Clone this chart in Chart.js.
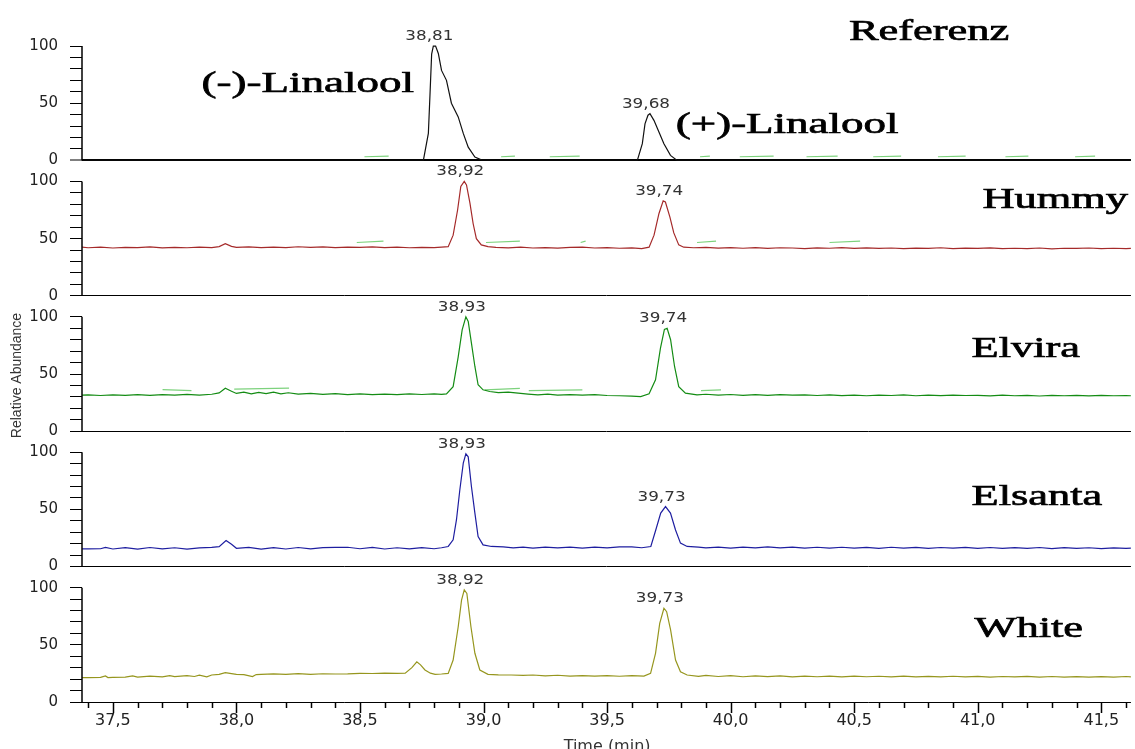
<!DOCTYPE html>
<html>
<head>
<meta charset="utf-8">
<title>Linalool Enantiomere</title>
<script src="https://cdn.jsdelivr.net/npm/chart.js@4.4.1/dist/chart.umd.min.js"></script>
<style>
  html, body { margin: 0; padding: 0; background: #fff; overflow: hidden; }
  canvas { display: block; }
</style>
</head>
<body>
<canvas id="chromatogram" width="1135" height="749"></canvas>
<script>
// time axis (min) and tick labels
const timeMin = 37.375;
const timeMax = 41.62;
const xMajorTicks = [37.5, 38.0, 38.5, 39.0, 39.5, 40.0, 40.5, 41.0, 41.5];
const xTickLabels = ['37,5', '38,0', '38,5', '39,0', '39,5', '40,0', '40,5', '41,0', '41,5'];
const yTickValues = [0, 10, 20, 30, 40, 50, 60, 70, 80, 90, 100];
const yTickLabels = [0, 50, 100];

const sampleNames = ['Referenz', 'Hummy', 'Elvira', 'Elsanta', 'White'];

// Referenz
const referenzTime = [37.375, 38.70, 38.7565, 38.7767, 38.7835, 38.79, 38.7968, 38.806, 38.817, 38.830, 38.850, 38.870,
  38.8975, 38.918, 38.938, 38.965, 38.991, 39.05, 39.60, 39.6224, 39.6426, 39.6534, 39.6655, 39.6735, 39.6896, 39.7098,
  39.73, 39.7565, 39.7835, 41.62];
const referenzAbundance = [0, 0, 0, 23.6, 58.6, 93, 100, 100, 93.5, 78.7, 70, 50,
  38, 23.6, 11.6, 3, 0.5, 0, 0, 0, 14.6, 32, 39.5, 40.8, 35, 24.8,
  14.6, 4.4, 0, 0];
const referenzPeaks = ['38,81', '39,68'];
const referenzGhostTime = [38.518, 38.616, 38.62, 39.071, 39.127, 39.13, 39.268, 39.389, 39.39, 39.876, 39.916, 39.92,
  40.037, 40.174, 40.18, 40.307, 40.433, 40.44, 40.577, 40.690, 40.70, 40.839, 40.951, 40.96, 41.112, 41.205, 41.21,
  41.394, 41.475];
const referenzGhost = [3.2, 3.8, null, 3.2, 3.8, null, 3.2, 3.8, null, 3.2, 3.8, null,
  3.2, 3.8, null, 3.2, 3.8, null, 3.2, 3.8, null, 3.2, 3.8, null, 3.2, 3.8, null,
  3.2, 3.8];

// Hummy
const hummyTime = [37.375, 37.40, 37.45, 37.50, 37.55, 37.60, 37.65, 37.70, 37.75, 37.80, 37.85, 37.90, 37.93, 37.955,
  37.98, 38.00, 38.05, 38.10, 38.15, 38.20, 38.25, 38.30, 38.35, 38.40, 38.45, 38.50, 38.55, 38.60, 38.65, 38.70, 38.75,
  38.80, 38.83, 38.857, 38.877, 38.895, 38.908, 38.922, 38.931, 38.945, 38.958, 38.971, 38.991, 39.018, 39.05, 39.10,
  39.15, 39.20, 39.25, 39.30, 39.35, 39.40, 39.45, 39.50, 39.55, 39.60, 39.64, 39.67, 39.69, 39.71, 39.727, 39.736,
  39.754, 39.770, 39.790, 39.810, 39.85, 39.90, 39.95, 40.00, 40.05, 40.10, 40.15, 40.20, 40.25, 40.30, 40.35, 40.40,
  40.45, 40.50, 40.55, 40.60, 40.65, 40.70, 40.75, 40.80, 40.85, 40.90, 40.95, 41.00, 41.05, 41.10, 41.15, 41.20, 41.25,
  41.30, 41.35, 41.40, 41.45, 41.50, 41.55, 41.60, 41.62];
const hummyAbundance = [42.5, 42.0, 42.6, 41.8, 42.4, 42.1, 42.7, 41.9, 42.3, 42.0, 42.6, 42.2, 43.0, 45.5,
  43.2, 42.3, 42.8, 42.1, 42.6, 42.2, 42.9, 42.3, 42.7, 42.1, 42.5, 42.3, 42.8, 42.2, 42.6, 42.0, 42.4,
  42.1, 42.6, 43, 53, 75, 95.6, 100, 97, 81, 63, 50, 44.5, 43, 42.4, 41.9,
  42.5, 41.8, 42.2, 41.7, 42.3, 42.6, 41.8, 42.1, 41.6, 41.9, 41.2, 42.5, 53, 72, 83, 82,
  69, 55, 44.5, 42.5, 42.0, 42.4, 41.7, 42.1, 41.6, 42.2, 41.5, 42.0, 41.8, 41.3, 41.9, 41.6,
  42.1, 41.5, 41.9, 41.4, 41.8, 41.2, 41.7, 41.5, 42.0, 41.3, 41.7, 41.4, 41.9, 41.2, 41.6, 41.3, 41.8,
  41.1, 41.6, 41.4, 41.8, 41.2, 41.6, 41.3, 41.5];
const hummyPeaks = ['38,92', '39,74'];
const hummyGhostTime = [38.487, 38.595, 38.60, 39.010, 39.147, 39.15, 39.393, 39.413, 39.42, 39.864, 39.941, 39.95,
  40.400, 40.524];
const hummyGhost = [46.6, 47.8, null, 46.6, 47.8, null, 46.6, 47.8, null, 46.6, 47.8, null,
  46.6, 47.8];

// Elvira
const elviraTime = [37.375, 37.40, 37.45, 37.50, 37.55, 37.60, 37.65, 37.70, 37.75, 37.80, 37.85, 37.90, 37.93, 37.955,
  37.98, 38.00, 38.03, 38.06, 38.09, 38.12, 38.15, 38.18, 38.21, 38.25, 38.30, 38.35, 38.40, 38.45, 38.50, 38.55, 38.60,
  38.65, 38.70, 38.75, 38.80, 38.83, 38.850, 38.877, 38.8975, 38.9135, 38.9285, 38.938, 38.951, 38.965, 38.978, 38.998,
  39.025, 39.06, 39.10, 39.14, 39.18, 39.22, 39.26, 39.30, 39.35, 39.40, 39.45, 39.50, 39.55, 39.60, 39.636, 39.67,
  39.696, 39.716, 39.732, 39.743, 39.757, 39.773, 39.790, 39.817, 39.864, 39.90, 39.95, 40.00, 40.05, 40.10, 40.15,
  40.20, 40.25, 40.30, 40.35, 40.40, 40.45, 40.50, 40.55, 40.60, 40.65, 40.70, 40.75, 40.80, 40.85, 40.90, 40.95, 41.00,
  41.05, 41.10, 41.15, 41.20, 41.25, 41.30, 41.35, 41.40, 41.45, 41.50, 41.55, 41.60, 41.62];
const elviraAbundance = [31.5, 31.8, 31.2, 31.7, 31.4, 31.9, 31.3, 32.0, 31.5, 32.2, 31.6, 32.3, 33.5, 37.5,
  35.0, 33.0, 34.2, 32.6, 34.0, 32.8, 34.1, 32.7, 33.6, 32.4, 33.1, 32.2, 32.8, 32.0, 32.6, 31.9, 32.5,
  32.0, 32.7, 32.1, 32.6, 32.2, 32.7, 39, 65, 88.6, 100, 96, 77, 56.6, 40.6, 36.2,
  34.7, 33.8, 34.2, 33.3, 32.5, 31.8, 32.4, 31.6, 32.0, 31.5, 31.9, 31.2, 31.0, 30.6, 30.3, 32.7,
  45, 72.6, 89, 90, 80, 56.6, 39, 33.3, 31.8, 32.3, 31.6, 32.1, 31.4, 31.9, 31.3,
  32.0, 31.5, 31.8, 31.2, 31.7, 31.1, 31.6, 31.0, 31.5, 31.2, 31.7, 31.0, 31.5, 31.1, 31.6, 31.2, 31.4,
  30.9, 31.5, 31.0, 31.4, 30.8, 31.3, 31.0, 31.4, 30.9, 31.3, 31.0, 31.2, 31.0];
const elviraPeaks = ['38,93', '39,74'];
const elviraGhostTime = [37.701, 37.818, 37.82, 37.991, 38.213, 38.22, 39.006, 39.147, 39.15, 39.183, 39.400, 39.41,
  39.880, 39.961];
const elviraGhost = [36.3, 35.5, null, 36.8, 37.7, null, 36.2, 37.5, null, 35.4, 36.2, null,
  35.4, 36.2];

// Elsanta
const elsantaTime = [37.375, 37.40, 37.45, 37.47, 37.50, 37.55, 37.60, 37.65, 37.70, 37.75, 37.80, 37.85, 37.90, 37.93,
  37.958, 37.98, 38.00, 38.05, 38.10, 38.15, 38.20, 38.25, 38.30, 38.35, 38.40, 38.45, 38.50, 38.55, 38.60, 38.65, 38.70,
  38.75, 38.80, 38.83, 38.857, 38.877, 38.8905, 38.904, 38.918, 38.9285, 38.938, 38.951, 38.965, 38.978, 38.998, 39.032,
  39.08, 39.12, 39.16, 39.20, 39.25, 39.30, 39.35, 39.40, 39.45, 39.50, 39.55, 39.60, 39.64, 39.677, 39.697, 39.717,
  39.7365, 39.7565, 39.777, 39.797, 39.824, 39.87, 39.90, 39.95, 40.00, 40.05, 40.10, 40.15, 40.20, 40.25, 40.30, 40.35,
  40.40, 40.45, 40.50, 40.55, 40.60, 40.65, 40.70, 40.75, 40.80, 40.85, 40.90, 40.95, 41.00, 41.05, 41.10, 41.15, 41.20,
  41.25, 41.30, 41.35, 41.40, 41.45, 41.50, 41.55, 41.60, 41.62];
const elsantaAbundance = [15.5, 15.5, 15.6, 16.8, 15.4, 16.6, 15.3, 16.7, 15.5, 16.5, 15.2, 16.4, 16.8, 17.5,
  22.8, 19.5, 16.0, 16.8, 15.3, 16.6, 15.4, 16.7, 15.5, 16.6, 16.8, 16.9, 15.6, 16.8, 15.4, 16.5, 15.5,
  16.6, 15.6, 16.5, 17.6, 23.4, 41, 67, 90.5, 98.6, 96, 70, 46.8, 26.3, 19, 17.6,
  17.3, 16.4, 17.0, 16.2, 17.1, 16.3, 17.0, 16.2, 17.0, 16.4, 17.2, 17.2, 16.5, 17.6, 32, 46.8,
  52.5, 46.8, 32, 20.5, 17.6, 17.0, 16.3, 17.1, 16.2, 17.0, 16.3, 17.2, 16.4, 17.0, 16.2, 16.9,
  16.1, 16.9, 16.2, 16.8, 16.0, 16.9, 16.1, 16.8, 16.0, 16.7, 16.1, 16.8, 16.0, 16.7, 15.9, 16.6, 16.0,
  16.7, 15.8, 16.6, 15.9, 16.5, 15.8, 16.4, 15.9, 16.2];
const elsantaPeaks = ['38,93', '39,73'];

// White
const whiteTime = [37.375, 37.40, 37.45, 37.47, 37.48, 37.50, 37.55, 37.58, 37.60, 37.65, 37.70, 37.73, 37.75, 37.80,
  37.83, 37.85, 37.88, 37.90, 37.93, 37.955, 37.98, 38.00, 38.03, 38.065, 38.08, 38.10, 38.15, 38.20, 38.25, 38.30,
  38.35, 38.40, 38.45, 38.50, 38.55, 38.60, 38.65, 38.683, 38.71, 38.73, 38.745, 38.763, 38.785, 38.804, 38.83, 38.857,
  38.877, 38.8975, 38.911, 38.922, 38.9325, 38.949, 38.965, 38.985, 39.018, 39.06, 39.112, 39.16, 39.20, 39.25, 39.30,
  39.35, 39.40, 39.45, 39.50, 39.55, 39.60, 39.649, 39.676, 39.696, 39.713, 39.730, 39.741, 39.757, 39.777, 39.797,
  39.824, 39.87, 39.90, 39.95, 40.00, 40.05, 40.10, 40.15, 40.20, 40.25, 40.30, 40.35, 40.40, 40.45, 40.50, 40.55,
  40.60, 40.65, 40.70, 40.75, 40.80, 40.85, 40.90, 40.95, 41.00, 41.05, 41.10, 41.15, 41.20, 41.25, 41.30, 41.35,
  41.40, 41.45, 41.50, 41.55, 41.60, 41.62];
const whiteAbundance = [21.3, 21.4, 21.5, 22.8, 21.4, 21.6, 21.8, 22.9, 21.7, 22.6, 21.9, 23.0, 22.2, 23.1,
  22.3, 23.4, 22.0, 23.6, 24.2, 25.6, 24.8, 24.2, 24.0, 22.3, 24.0, 24.2, 24.6, 24.1, 24.8, 24.2,
  24.7, 24.5, 24.6, 25.0, 24.9, 25.2, 25.0, 25.2, 30, 35.2, 32.5, 28, 25.2, 24.2, 24.5, 25,
  36.7, 65.8, 89, 98, 95, 65.8, 42.6, 28, 24.2, 23.8, 23.6, 23.2, 23.6, 22.9, 23.4,
  22.7, 23.1, 22.6, 23.0, 22.5, 23.1, 22.7, 25, 42.6, 68.8, 82, 79, 63, 36.7, 26.5,
  23.6, 22.4, 23.2, 22.3, 23.0, 22.1, 22.9, 22.2, 22.8, 22.0, 22.6, 22.1, 22.7, 22.0, 22.6, 22.1,
  22.5, 21.9, 22.6, 22.0, 22.4, 21.9, 22.5, 22.0, 22.4, 21.8, 22.3, 21.9, 22.4, 21.8, 22.3, 21.8,
  22.2, 21.7, 22.2, 21.8, 22.3, 22.0];
const whitePeaks = ['38,92', '39,73'];

// one panel per sample, top to bottom
const panels = [
  { id: 'yRef', time: referenzTime, values: referenzAbundance, peaks: referenzPeaks, color: '#111111',
    ghostTime: referenzGhostTime, ghost: referenzGhost, label: [40.479, 105.3] },
  { id: 'yHummy', time: hummyTime, values: hummyAbundance, peaks: hummyPeaks, color: 'rgb(165,42,42)',
    ghostTime: hummyGhostTime, ghost: hummyGhost, label: [41.019, 76.8] },
  { id: 'yElvira', time: elviraTime, values: elviraAbundance, peaks: elviraPeaks, color: 'rgb(20,140,20)',
    ghostTime: elviraGhostTime, ghost: elviraGhost, label: [40.975, 64.9] },
  { id: 'yElsanta', time: elsantaTime, values: elsantaAbundance, peaks: elsantaPeaks, color: 'rgb(30,30,160)',
    label: [40.975, 54] },
  { id: 'yWhite', time: whiteTime, values: whiteAbundance, peaks: whitePeaks, color: 'rgb(150,150,30)',
    label: [40.987, 56.8] }
];
// compound names written inside the Referenz panel
const compoundLabels = [
  { text: '(-)-Linalool', at: [37.859, 59.8] },
  { text: '(+)-Linalool', at: [39.778, 24.0] }
];

const toPoints = (t, v) => t.map((x, i) => ({ x: x, y: v[i] }));

const datasets = [];
panels.forEach((p, i) => {
  datasets.push({
    label: sampleNames[i], data: toPoints(p.time, p.values), yAxisID: p.id,
    borderColor: p.color, borderWidth: 1.2, pointRadius: 0, tension: 0, fill: false
  });
  if (p.ghostTime) {
    datasets.push({
      label: sampleNames[i] + ' ghost', data: toPoints(p.ghostTime, p.ghost), yAxisID: p.id,
      borderColor: 'rgb(125,210,125)', borderWidth: 1.2, pointRadius: 0, spanGaps: false, fill: false
    });
  }
});

function panelAxis(weight, isTop) {
  return {
    type: 'linear', position: 'left', stack: 'panels', stackWeight: 1, weight: weight,
    min: 0, max: 118.4,
    afterBuildTicks: s => { s.ticks = yTickValues.map(v => ({ value: v })); },
    afterFit: s => { s.width = 82; },
    border: { display: false },
    grid: {
      drawOnChartArea: true, drawTicks: true, tickLength: 12,
      color: c => (c.tick && c.tick.value === 0) ? '#000' : 'rgba(0,0,0,0)',
      lineWidth: c => (isTop && c.tick && c.tick.value === 0) ? 2 : 1,
      tickColor: '#000', tickWidth: 1
    },
    ticks: {
      autoSkip: false, padding: 12, color: '#222',
      font: { family: 'DejaVu Sans', size: 15 },
      callback: v => yTickLabels.includes(v) ? String(v) : ''
    }
  };
}

const scales = {
  x: {
    type: 'linear', position: 'bottom', min: timeMin, max: timeMax,
    afterBuildTicks: s => {
      const t = [];
      for (let k = 374; k <= 416; k++) t.push({ value: k / 10 });
      s.ticks = t;
    },
    afterFit: s => { s.height = 47; },
    border: { display: false },
    grid: { display: false, drawTicks: false },
    ticks: {
      autoSkip: false, maxRotation: 0, minRotation: 0, padding: 9, color: '#222',
      font: { family: 'DejaVu Sans', size: 16 },
      callback: v => {
        const i = xMajorTicks.findIndex(m => Math.abs(m - v) < 1e-6);
        return i >= 0 ? xTickLabels[i] : '';
      }
    }
  }
};
panels.forEach((p, i) => { scales[p.id] = panelAxis(panels.length - i, i === 0); });

function stretchText(ctx, text, x, y, sx, align, heavy) {
  ctx.save();
  ctx.translate(x, y);
  ctx.scale(sx, 1);
  ctx.textAlign = align;
  ctx.fillText(text, 0, 0);
  if (heavy) {
    ctx.lineWidth = 0.7;
    ctx.strokeStyle = ctx.fillStyle;
    ctx.strokeText(text, 0, 0);
  }
  ctx.restore();
}

const annotations = {
  id: 'annotations',
  afterDraw(chart) {
    const ctx = chart.ctx;
    const xs = chart.scales.x;
    ctx.save();
    ctx.strokeStyle = '#000';
    ctx.lineWidth = 1.5;
    // vertical axis line of each panel, 0..100 only
    panels.forEach(p => {
      const s = chart.scales[p.id];
      ctx.beginPath();
      ctx.moveTo(s.right, s.getPixelForValue(100));
      ctx.lineTo(s.right, s.getPixelForValue(0));
      ctx.stroke();
    });
    // time ticks, longer at labelled positions
    xs.ticks.forEach(t => {
      const px = Math.round(xs.getPixelForValue(t.value)) + 0.5;
      const major = xMajorTicks.some(m => Math.abs(m - t.value) < 1e-6);
      ctx.beginPath();
      ctx.moveTo(px, xs.top);
      ctx.lineTo(px, xs.top + (major ? 11 : 6));
      ctx.stroke();
    });
    // retention time above each peak apex
    ctx.fillStyle = '#333';
    ctx.font = '14px "DejaVu Sans"';
    ctx.textBaseline = 'alphabetic';
    panels.forEach(p => {
      const s = chart.scales[p.id];
      p.peaks.forEach(txt => {
        const rt = parseFloat(txt.replace(',', '.'));
        let best = -1;
        p.time.forEach((t, i) => {
          if (Math.abs(t - rt) < 0.06 && (best < 0 || p.values[i] > p.values[best])) best = i;
        });
        const px = xs.getPixelForValue(p.time[best]) - 4;
        const py = s.getPixelForValue(p.values[best]) - 6;
        stretchText(ctx, txt, px, py, 1.2, 'center', false);
      });
    });
    // sample and compound names
    ctx.fillStyle = '#000';
    ctx.font = '30px "Liberation Serif"';
    panels.forEach((p, i) => {
      const s = chart.scales[p.id];
      stretchText(ctx, sampleNames[i], xs.getPixelForValue(p.label[0]), s.getPixelForValue(p.label[1]), 1.48, 'left', true);
    });
    const ref = chart.scales.yRef;
    compoundLabels.forEach(c => {
      stretchText(ctx, c.text, xs.getPixelForValue(c.at[0]), ref.getPixelForValue(c.at[1]), 1.5, 'left', true);
    });
    // axis titles
    ctx.fillStyle = '#333';
    ctx.font = '14px "Liberation Sans"';
    ctx.save();
    ctx.translate(17, (chart.chartArea.top + chart.chartArea.bottom) / 2 + 12);
    ctx.rotate(-Math.PI / 2);
    ctx.textAlign = 'center';
    ctx.textBaseline = 'middle';
    ctx.fillText('Relative Abundance', 0, 0);
    ctx.restore();
    ctx.font = '16px "DejaVu Sans"';
    ctx.textAlign = 'center';
    ctx.fillText('Time (min)', xs.getPixelForValue(39.5), chart.height + 2);
    ctx.restore();
  }
};

new Chart(document.getElementById('chromatogram').getContext('2d'), {
  type: 'line',
  data: { datasets: datasets },
  options: {
    responsive: false,
    devicePixelRatio: 1,
    animation: false,
    events: [],
    layout: { padding: { top: 25, left: 0, right: 0, bottom: 0 } },
    plugins: { legend: { display: false }, tooltip: { enabled: false } },
    scales: scales
  },
  plugins: [annotations]
});
</script>
</body>
</html>
